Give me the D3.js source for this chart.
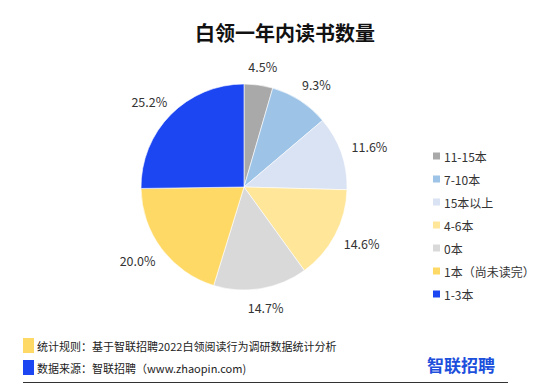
<!DOCTYPE html>
<html>
<head>
<meta charset="utf-8">
<script src="https://cdn.jsdelivr.net/npm/d3@7"></script>
<style>
    body { margin: 0; background: #fff; }
    svg { display: block; font-family: "Noto Sans CJK SC", "Noto Sans", sans-serif; }
</style>
</head>
<body>
<div id="chart"></div>
<script>
// data, clockwise from 12 o'clock
const categories = ['11-15本', '7-10本', '15本以上', '4-6本', '0本', '1本（尚未读完）', '1-3本'];
const shares = [4.5, 9.3, 11.6, 14.6, 14.7, 20.0, 25.2];
const colors = ['#a9a9a9', '#9dc3e6', '#dae3f3', '#ffe699', '#d9d9d9', '#ffd966', '#1c46f2'];
const notes = ['统计规则：基于智联招聘2022白领阅读行为调研数据统计分析', '数据来源：智联招聘（www.zhaopin.com)'];
const noteColors = ['#ffd966', '#1c46f2'];

const width = 560, height = 391;
const cx = 244, cy = 187, radius = 103;

const svg = d3.select('#chart').append('svg')
    .attr('width', width)
    .attr('height', height);

// title
svg.append('text')
    .attr('x', 285)
    .attr('y', 41)
    .attr('text-anchor', 'middle')
    .style('font-size', '20px')
    .style('font-weight', 'bold')
    .attr('fill', '#111')
    .text('白领一年内读书数量');

const data = categories.map((c, i) => ({ name: c, value: shares[i], color: colors[i] }));

const pie = d3.pie().sort(null).value(d => d.value);
const arc = d3.arc().innerRadius(0).outerRadius(radius);

const g = svg.append('g').attr('transform', `translate(${cx},${cy})`);
const arcs = pie(data);

g.selectAll('path')
    .data(arcs)
    .enter()
    .append('path')
    .attr('d', arc)
    .attr('fill', d => d.data.color)
    .attr('stroke', '#fff')
    .attr('stroke-width', 0.6);

// percentage labels outside the slices
g.selectAll('.pct')
    .data(arcs)
    .enter()
    .append('text')
    .attr('class', 'pct')
    .attr('text-anchor', 'middle')
    .attr('dominant-baseline', 'central')
    .style('font-size', '12.5px')
    .attr('fill', '#333')
    .attr('x', d => {
        const a = (d.startAngle + d.endAngle) / 2;
        return Math.sin(a) * (radius + 13) + Math.sin(a) * 17;
    })
    .attr('y', d => {
        const a = (d.startAngle + d.endAngle) / 2;
        return -Math.cos(a) * (radius + 13) - Math.cos(a) * 6;
    })
    .text(d => d.data.value.toFixed(1) + '%');

// legend
const legend = svg.append('g').attr('transform', 'translate(433,156)');
const row = legend.selectAll('g')
    .data(data)
    .enter()
    .append('g')
    .attr('transform', (d, i) => `translate(0,${i * 23})`);

row.append('rect')
    .attr('x', 0)
    .attr('y', -3.5)
    .attr('width', 7)
    .attr('height', 7)
    .attr('fill', d => d.color);

row.append('text')
    .attr('x', 11)
    .attr('y', 0)
    .attr('dominant-baseline', 'central')
    .style('font-size', '12px')
    .attr('fill', '#333')
    .text(d => d.name);

// footer notes
const foot = svg.append('g');
notes.forEach((t, i) => {
    const y = 346 + i * 22;
    foot.append('rect')
        .attr('x', 23)
        .attr('y', y - 8)
        .attr('width', 11)
        .attr('height', 15)
        .attr('fill', noteColors[i]);
    foot.append('text')
        .attr('x', 37)
        .attr('y', y)
        .attr('dominant-baseline', 'central')
        .style('font-size', '11px')
        .attr('fill', '#222')
        .text(t);
});

// logo
svg.append('text')
    .attr('x', 461)
    .attr('y', 364)
    .attr('text-anchor', 'middle')
    .attr('dominant-baseline', 'central')
    .style('font-size', '17px')
    .style('font-weight', 'bold')
    .attr('fill', '#1c4fdc')
    .text('智联招聘');

svg.append('line')
    .attr('x1', 23).attr('x2', 508)
    .attr('y1', 382.5).attr('y2', 382.5)
    .attr('stroke', '#333')
    .attr('stroke-width', 1);
</script>
</body>
</html>
